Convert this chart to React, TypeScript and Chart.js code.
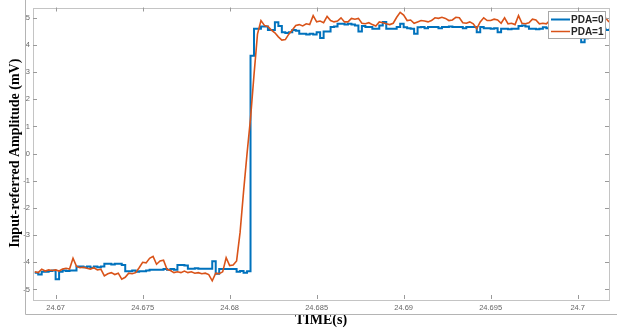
import React, { useEffect, useRef } from 'react';
import { Chart, registerables } from 'chart.js';

Chart.register(...registerables);

// ---- data ----
const T0 = 24.6688; // first sample time (s)
const DT = 0.0002; // sample spacing (s)
const X_MIN = 24.6687;
const X_MAX = 24.7018;
const Y_MIN = -5.35;
const Y_MAX = 5.38;
const X_TICKS = [24.67, 24.675, 24.68, 24.685, 24.69, 24.695, 24.7];
const X_TICK_LABELS = ['24.67', '24.675', '24.68', '24.685', '24.69', '24.695', '24.7'];
const Y_TICKS = [-5, -4, -3, -2, -1, 0, 1, 2, 3, 4, 5];
const Y_TICK_LABELS = ['-5', '-4', '-3', '-2', '-1', '0', '1', '2', '3', '4', '5'];
const SERIES_NAMES = ['PDA=0', 'PDA=1'];
const X_TITLE = 'TIME(s)';
const Y_TITLE = 'Input-referred Amplitude (mV)';

const PDA0 = [
  -4.38, -4.45, -4.35, -4.35, -4.32, -4.3, -4.62, -4.35, -4.3, -4.32,
  -4.3, -4.3, -4.15, -4.15, -4.18, -4.15, -4.2, -4.15, -4.18, -4.15,
  -4.05, -4.05, -4.08, -4.05, -4.05, -4.1, -4.33, -4.33, -4.3, -4.35,
  -4.33, -4.33, -4.3, -4.27, -4.27, -4.27, -4.27, -4.25, -4.27, -4.25,
  -4.27, -4.1, -4.1, -4.12, -4.24, -4.24, -4.22, -4.24, -4.24, -4.24,
  -4.24, -3.96, -4.42, -4.25, -4.25, -4.25, -4.25, -4.25, -4.35, -4.32,
  -4.38, -4.33, 3.6, 4.6, 4.6, 4.68, 4.68, 4.55, 4.55, 4.84,
  4.7, 4.47, 4.44, 4.47, 4.55, 4.52, 4.41, 4.41, 4.39, 4.41,
  4.39, 4.47, 4.26, 4.5, 4.5, 4.66, 4.68, 4.78, 4.78, 4.75,
  4.78, 4.75, 4.72, 4.5, 4.7, 4.66, 4.66, 4.6, 4.6, 4.72,
  4.85, 4.6, 4.6, 4.6, 4.66, 4.78, 4.65, 4.62, 4.6, 4.41,
  4.65, 4.66, 4.62, 4.66, 4.66, 4.66, 4.62, 4.66, 4.66, 4.68,
  4.66, 4.66, 4.66, 4.62, 4.66, 4.66, 4.66, 4.47, 4.66, 4.62,
  4.62, 4.6, 4.62, 4.47, 4.6, 4.6, 4.58, 4.6, 4.6, 4.7,
  4.72, 4.68, 4.6, 4.6, 4.58, 4.6, 4.65, 4.62, 4.62, 4.6,
  4.6, 4.62, 4.6, 4.6, 4.62, 4.6, 4.5, 4.1, 4.25, 4.55,
  4.6, 4.62, 4.6, 4.6, 4.55, 4.6,
];

const PDA1 = [
  -4.35, -4.38, -4.25, -4.32, -4.28, -4.3, -4.28, -4.32, -4.25, -4.22,
  -4.25, -3.85, -4.15, -4.2, -4.18, -4.22, -4.25, -4.2, -4.28, -4.25,
  -4.5, -4.42, -4.38, -4.45, -4.4, -4.62, -4.55, -4.4, -4.42, -4.38,
  -4.2, -4.0, -4.02, -3.85, -3.78, -4.07, -3.95, -3.92, -4.26, -4.3,
  -4.38, -4.35, -4.38, -4.32, -4.38, -4.35, -4.4, -4.38, -4.42, -4.4,
  -4.45, -4.68, -4.4, -4.42, -4.35, -3.83, -4.12, -4.1, -3.95, -2.9,
  -1.4, 0.0, 1.3, 2.9, 4.4, 4.9, 4.72, 4.68, 4.55, 4.45,
  4.3, 4.18, 4.2, 4.4, 4.55, 4.72, 4.75, 4.7, 4.78, 4.75,
  5.08, 4.85, 4.88, 4.82, 5.05, 4.9, 4.85, 4.88, 5.0, 4.85,
  4.85, 4.98, 4.95, 4.98, 4.8, 4.78, 4.82, 4.75, 4.7, 4.85,
  4.82, 4.78, 4.75, 4.8, 5.02, 5.2, 5.1, 4.9, 4.92, 4.8,
  4.85, 4.9, 4.88, 4.85, 4.9, 5.0, 4.98, 5.02, 4.98, 4.9,
  4.92, 5.02, 5.0, 4.82, 4.8, 4.85, 4.78, 4.6, 4.85, 5.0,
  4.9, 4.9, 4.95, 4.92, 4.8, 5.0, 4.78, 4.8, 4.75, 5.08,
  4.8, 4.78, 4.82, 4.95, 4.92, 4.78, 4.8, 4.78, 4.9, 4.85,
  4.82, 4.9, 4.8, 4.85, 4.9, 4.82, 4.85, 4.8, 4.88, 4.85,
  4.9, 4.82, 4.85, 4.88, 5.0, 4.85,
];

const COLORS = ['#0072BD', '#D95319'];

const toPoints = (vals: number[]) => vals.map((y, i) => ({ x: +(T0 + i * DT).toFixed(5), y }));

const decorPlugin = {
  id: 'decor',
  beforeDraw(chart: any) {
    const { ctx, width, height } = chart;
    ctx.save();
    ctx.fillStyle = '#ffffff';
    ctx.fillRect(0, 0, width, height);
    ctx.restore();
  },
  afterDraw(chart: any) {
    const { ctx, chartArea: a, scales } = chart;
    ctx.save();
    // outer figure frame
    ctx.strokeStyle = '#b4b4b4';
    ctx.lineWidth = 1;
    ctx.beginPath();
    ctx.moveTo(25.5, 0);
    ctx.lineTo(25.5, 314.5);
    ctx.lineTo(chart.width, 314.5);
    ctx.stroke();

    // axes box
    ctx.strokeStyle = '#c4c4c4';
    ctx.strokeRect(Math.round(a.left) + 0.5, Math.round(a.top) + 0.5, Math.round(a.right - a.left), Math.round(a.bottom - a.top));

    // inward tick marks
    ctx.strokeStyle = '#9a9a9a';
    ctx.beginPath();
    const tl = 4;
    X_TICKS.forEach((v) => {
      const x = Math.round(scales.x.getPixelForValue(v)) + 0.5;
      ctx.moveTo(x, a.bottom);
      ctx.lineTo(x, a.bottom - tl);
      ctx.moveTo(x, a.top);
      ctx.lineTo(x, a.top + tl);
    });
    Y_TICKS.forEach((v) => {
      const y = Math.round(scales.y.getPixelForValue(v)) + 0.5;
      ctx.moveTo(a.left, y);
      ctx.lineTo(a.left + tl, y);
      ctx.moveTo(a.right, y);
      ctx.lineTo(a.right - tl, y);
    });
    ctx.stroke();

    // legend
    const lx = 548.5, ly = 11.5, lw = 57, lh = 27;
    ctx.fillStyle = '#ffffff';
    ctx.fillRect(lx, ly, lw, lh);
    ctx.strokeStyle = '#a8a8a8';
    ctx.strokeRect(lx, ly, lw, lh);
    const rows = [19.5, 31.5];
    SERIES_NAMES.forEach((name, i) => {
      ctx.strokeStyle = COLORS[i];
      ctx.lineWidth = i === 0 ? 2 : 1.5;
      ctx.beginPath();
      ctx.moveTo(551, rows[i]);
      ctx.lineTo(570, rows[i]);
      ctx.stroke();
      ctx.fillStyle = '#262626';
      ctx.font = 'bold 10px "Liberation Sans", Arial, sans-serif';
      ctx.textAlign = 'left';
      ctx.textBaseline = 'middle';
      ctx.fillText(name, 571, rows[i] + 0.5);
    });
    ctx.restore();
  },
};

export default function App() {
  const ref = useRef<HTMLCanvasElement | null>(null);

  useEffect(() => {
    if (!ref.current) return;
    const tickFont = { family: '"Liberation Sans", Arial, sans-serif', size: 7.5 };
    const titleFont = { family: '"Liberation Serif", "Times New Roman", serif', size: 14, weight: 'bold' as const };
    const chart = new Chart(ref.current, {
      type: 'line',
      data: {
        datasets: [
          {
            label: SERIES_NAMES[0],
            data: toPoints(PDA0),
            borderColor: COLORS[0],
            backgroundColor: COLORS[0],
            borderWidth: 2,
            pointRadius: 0,
            stepped: true,
            tension: 0,
            order: 2,
          },
          {
            label: SERIES_NAMES[1],
            data: toPoints(PDA1),
            borderColor: COLORS[1],
            backgroundColor: COLORS[1],
            borderWidth: 1.6,
            pointRadius: 0,
            tension: 0,
            order: 1,
          },
        ],
      },
      options: {
        responsive: false,
        animation: false,
        devicePixelRatio: 1,
        layout: { padding: { left: 0, right: 8, top: 7, bottom: 0 } },
        plugins: { legend: { display: false }, tooltip: { enabled: false } },
        scales: {
          x: {
            type: 'linear',
            min: X_MIN,
            max: X_MAX,
            afterBuildTicks: (s: any) => {
              s.ticks = X_TICKS.map((v) => ({ value: v }));
            },
            afterFit: (s: any) => {
              s.height = 32;
            },
            ticks: {
              autoSkip: false,
              maxRotation: 0,
              padding: 4,
              color: '#666666',
              font: tickFont,
              callback: (v: any) => {
                const idx = X_TICKS.findIndex((t) => Math.abs(t - Number(v)) < 1e-7);
                return idx >= 0 ? X_TICK_LABELS[idx] : '';
              },
            },
            grid: { display: false, drawTicks: false },
            border: { display: false },
            title: {
              display: true,
              text: X_TITLE,
              color: '#000000',
              font: titleFont,
              padding: { top: 0, bottom: 2.6 },
            },
          },
          y: {
            min: Y_MIN,
            max: Y_MAX,
            afterBuildTicks: (s: any) => {
              s.ticks = Y_TICKS.map((v) => ({ value: v }));
            },
            afterFit: (s: any) => {
              s.width = 33;
            },
            ticks: {
              padding: 3,
              color: '#666666',
              font: tickFont,
              callback: (v: any) => {
                const idx = Y_TICKS.findIndex((t) => Math.abs(t - Number(v)) < 1e-7);
                return idx >= 0 ? Y_TICK_LABELS[idx] : '';
              },
            },
            grid: { display: false, drawTicks: false },
            border: { display: false },
            title: {
              display: true,
              text: Y_TITLE,
              color: '#000000',
              font: titleFont,
              padding: { top: 6.6, bottom: 0 },
            },
          },
        },
      },
      plugins: [decorPlugin],
    });
    return () => chart.destroy();
  }, []);

  return (
    <div style={{ position: 'fixed', left: 0, top: 0, width: 617, height: 331, background: '#fff' }}>
      <canvas ref={ref} width={617} height={331} style={{ display: 'block', width: 617, height: 331 }} />
    </div>
  );
}
